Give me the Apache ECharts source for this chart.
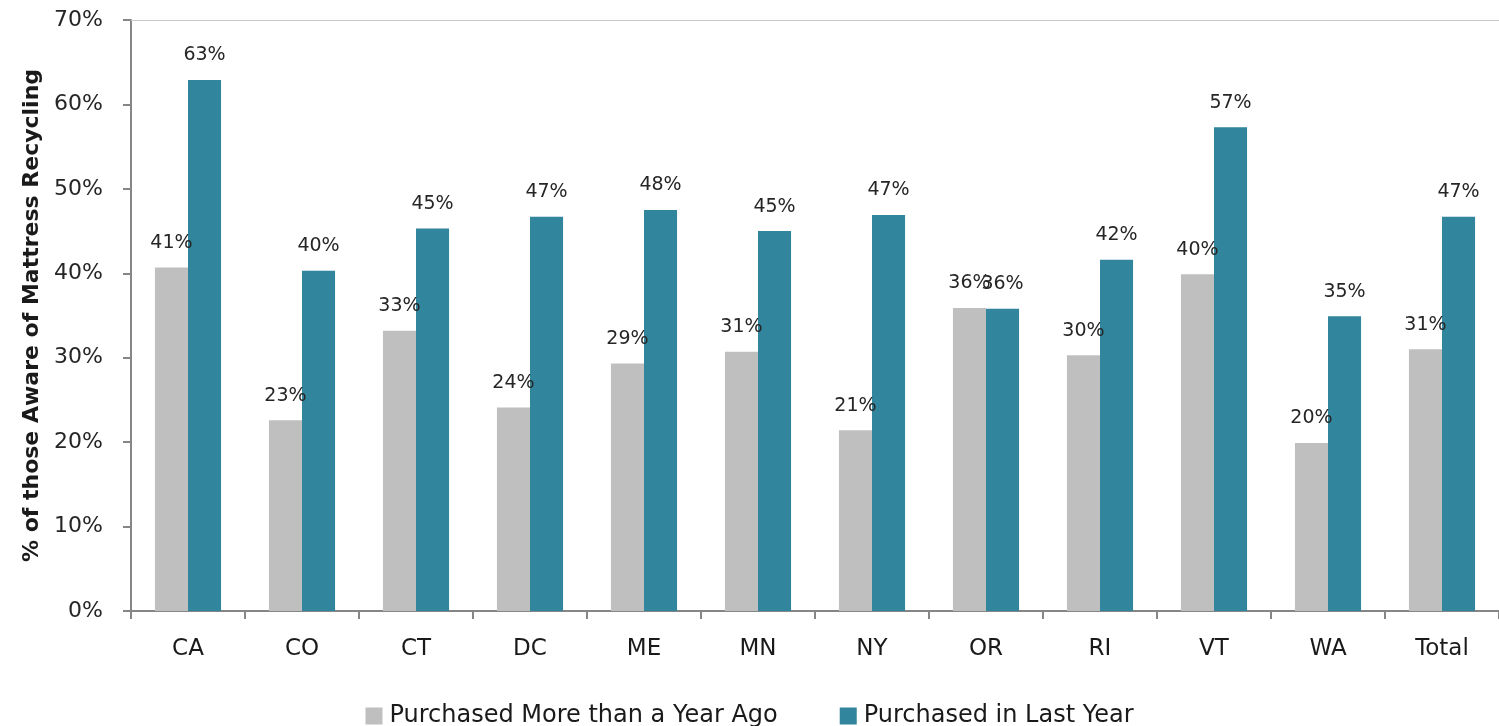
<!DOCTYPE html>
<html>
<head>
<meta charset="utf-8">
<script src="https://cdn.jsdelivr.net/npm/echarts@6/dist/echarts.min.js"></script>
<style>
  html, body { margin: 0; padding: 0; background: #fff; }
  #chart { width: 1499px; height: 726px; }
</style>
</head>
<body>
<div id="chart"></div>
<script>
// Mattress recycling awareness by state, split by purchase timing
const categories = ['CA', 'CO', 'CT', 'DC', 'ME', 'MN', 'NY', 'OR', 'RI', 'VT', 'WA', 'Total'];
const olderPurchase = [40.7, 22.6, 33.2, 24.1, 29.3, 30.7, 21.4, 35.9, 30.3, 39.9, 19.9, 31.0];
const recentPurchase = [62.9, 40.3, 45.3, 46.7, 47.5, 45.0, 46.9, 35.8, 41.6, 57.3, 34.9, 46.7];
const seriesNames = ['Purchased More than a Year Ago', 'Purchased in Last Year'];
const yTicks = { min: 0, max: 70, interval: 10 };

const FONT = 'DejaVu Sans';
const chart = echarts.init(document.getElementById('chart'));

const valueLabel = {
  show: true,
  position: 'top',
  distance: 15,
  fontFamily: FONT,
  fontSize: 19,
  color: '#262626',
  formatter: p => Math.round(p.value) + '%'
};

chart.setOption({
  animation: false,
  textStyle: { fontFamily: FONT },
  grid: { left: 131, right: 0, top: 20, bottom: 115, containLabel: false },
  legend: {
    top: 699,
    left: 'center',
    itemWidth: 17,
    itemHeight: 17,
    itemGap: 62,
    icon: 'rect',
    textStyle: { fontFamily: FONT, fontSize: 24, color: '#1a1a1a', padding: [0, 0, 0, 2] },
    data: seriesNames
  },
  xAxis: [
    {
      type: 'category',
      data: categories,
      axisLine: { lineStyle: { color: '#868686', width: 2 } },
      axisTick: { show: true, alignWithLabel: false, length: 8, lineStyle: { color: '#868686', width: 2 } },
      axisLabel: { fontFamily: FONT, fontSize: 23, color: '#1a1a1a', margin: 27 }
    },
    {
      type: 'category',
      position: 'top',
      data: categories,
      axisLine: { show: true, lineStyle: { color: '#c8c8c8', width: 1 } },
      axisTick: { show: false },
      axisLabel: { show: false }
    }
  ],
  yAxis: {
    type: 'value',
    min: yTicks.min,
    max: yTicks.max,
    interval: yTicks.interval,
    name: '% of those Aware of Mattress Recycling',
    nameLocation: 'middle',
    nameRotate: 90,
    nameGap: 88,
    nameTextStyle: { fontFamily: FONT, fontSize: 22, fontWeight: 'bold', color: '#1a1a1a' },
    axisLine: { show: true, lineStyle: { color: '#868686', width: 2 } },
    axisTick: { show: true, length: 8, lineStyle: { color: '#868686', width: 2 } },
    splitLine: { show: false },
    axisLabel: {
      fontFamily: FONT,
      fontSize: 22,
      color: '#262626',
      margin: 28,
      formatter: '{value}%'
    }
  },
  series: [
    {
      name: seriesNames[0],
      type: 'bar',
      data: olderPurchase,
      barGap: '0%',
      barCategoryGap: '42%',
      itemStyle: { color: '#bfbfbf' },
      label: valueLabel
    },
    {
      name: seriesNames[1],
      type: 'bar',
      data: recentPurchase,
      barGap: '0%',
      barCategoryGap: '42%',
      itemStyle: { color: '#31859c' },
      label: valueLabel
    }
  ]
});
</script>
</body>
</html>
